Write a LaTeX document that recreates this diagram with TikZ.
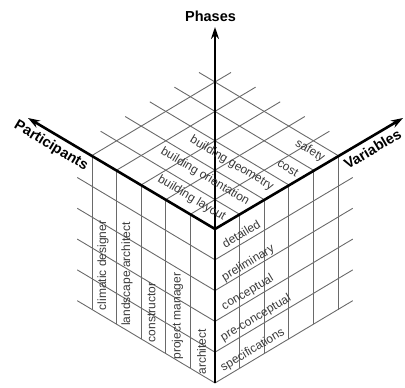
\documentclass[tikz,border=0pt]{standalone}
\usepackage{fontspec}
\setmainfont{Liberation Sans}
\usetikzlibrary{arrows.meta}
\definecolor{gridc}{HTML}{6A6A6A}
\definecolor{labc}{HTML}{3A3A3A}
\tikzset{
  gridline/.style={draw=gridc, line width=0.9pt},
  axisline/.style={draw=black, line width=2.6pt},
  axisarrow/.style={axisline, -{Stealth[length=12pt,width=8pt]}},
  axlabel/.style={font=\fontsize{14.5}{14.5}\selectfont\bfseries, inner sep=0pt},
  celllabel/.style={font=\fontsize{12}{12}\selectfont, text=labc, inner sep=0pt},
}
\begin{document}
\begin{tikzpicture}[x=1pt,y=-1pt]
\useasboundingbox (0,0) rectangle (405,388);
\def\ux{24.6}
\def\uy{14.7}
\def\hh{30.8}
\coordinate (O) at (215,229);
\coordinate (B) at (215,383);
\coordinate (Ptip) at (28,118);
\coordinate (Vtip) at (403,118);
\coordinate (Ftip) at (215,27);
% grid
\foreach \i in {1,...,5}{
  % top face
  \coordinate (P\i) at ({215-\ux*\i},{229-\uy*\i});
  \coordinate (V\i) at ({215+\ux*\i},{229-\uy*\i});
  \coordinate (Pe\i) at ({215-\ux*\i+\ux*5.65},{229-\uy*\i-\uy*5.65});
  \coordinate (Ve\i) at ({215+\ux*\i-\ux*5.65},{229-\uy*\i-\uy*5.65});
  \draw[gridline] (P\i) -- (Pe\i);
  \draw[gridline] (V\i) -- (Ve\i);
  % side faces, vertical lines
  \coordinate (Pd\i) at ({215-\ux*\i},{229-\uy*\i+5*\hh});
  \coordinate (Vd\i) at ({215+\ux*\i},{229-\uy*\i+5*\hh});
  \draw[gridline] (P\i) -- (Pd\i);
  \draw[gridline] (V\i) -- (Vd\i);
  % side faces, slanted lines
  \coordinate (F\i) at (215,{229+\hh*\i});
  \coordinate (Fl\i) at ({215-\ux*5.6},{229+\hh*\i-\uy*5.6});
  \coordinate (Fr\i) at ({215+\ux*5.6},{229+\hh*\i-\uy*5.6});
  \draw[gridline] (F\i) -- (Fl\i);
  \draw[gridline] (F\i) -- (Fr\i);
}
% axes
\draw[axisarrow] (B) -- (Ftip);
\draw[axisarrow] (O) -- (Ptip);
\draw[axisarrow] (O) -- (Vtip);
% axis labels
\node[axlabel] (phases) at (210.5,16.5) {Phases};
\node[axlabel, rotate=-30.9] (participants) at (51,146) {Participants};
\node[axlabel, rotate=30.9] (variables) at (372.5,149) {Variables};
% top face labels
\node[celllabel, rotate=-30.9] (blayout) at (191.7,198.3) {building layout};
\node[celllabel, rotate=-30.9] (borient) at (205,176.7) {building orientation};
\node[celllabel, rotate=-30.9] (bgeom) at (231.7,163.3) {building geometry};
\node[celllabel, rotate=-30.9] (cost) at (288,168) {cost};
\node[celllabel, rotate=-30.9] (safety) at (310,151) {safety};
% right face labels
\node[celllabel, rotate=30.9] (detailed) at (241.2,233.7) {detailed};
\node[celllabel, rotate=30.9] (prelim) at (248.3,263.3) {preliminary};
\node[celllabel, rotate=30.9] (concept) at (247.8,292.5) {conceptual};
\node[celllabel, rotate=30.9] (preconc) at (255.9,318.3) {pre-conceptual};
\node[celllabel, rotate=30.9] (spec) at (252.8,350) {specifications};
% left face labels
\node[celllabel, rotate=90] (climatic) at (103,265.5) {climatic designer};
\node[celllabel, rotate=90] (landscape) at (127,274) {landscape architect};
\node[celllabel, rotate=90] (constructor) at (151.6,312.5) {constructor};
\node[celllabel, rotate=90] (pm) at (177.5,316) {project manager};
\node[celllabel, rotate=90] (architect) at (201.7,351.7) {architect};
\end{tikzpicture}
\end{document}
